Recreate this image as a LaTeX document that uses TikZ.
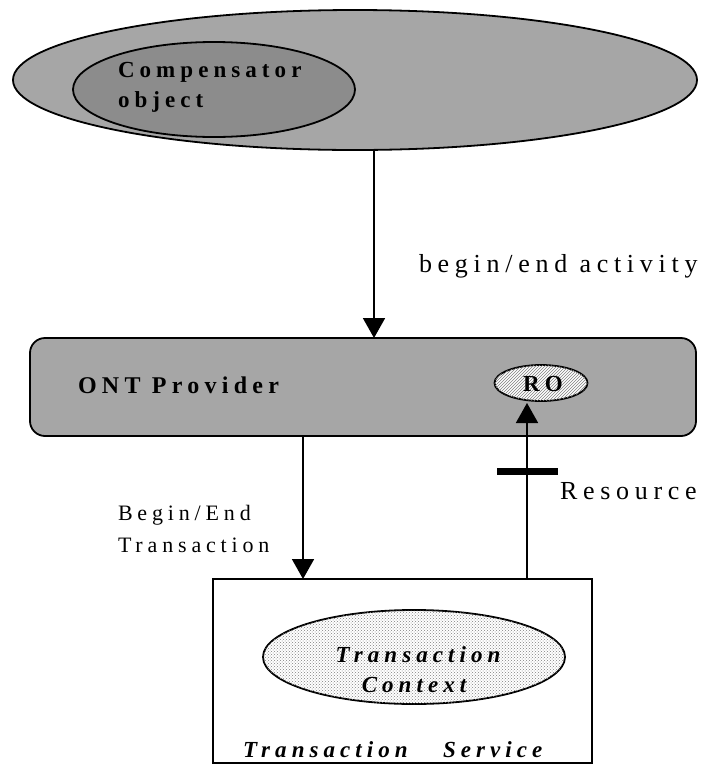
\documentclass[tikz,border=0pt]{standalone}
\usepackage{fontspec}
\setmainfont{Liberation Serif}
\usetikzlibrary{shapes.geometric,arrows.meta,patterns}
\definecolor{outergray}{HTML}{A6A6A6}
\definecolor{innergray}{HTML}{8C8C8C}
\definecolor{boxgray}{HTML}{A6A6A6}
\newfontfamily\spfam[LetterSpace=22]{Liberation Serif}
\tikzset{
  shapebox/.style={inner sep=0pt, outer sep=0pt, line width=1.8pt},
  ell/.style={shapebox, ellipse, draw=black},
  arr/.style={line width=1.8pt, -{Triangle[width=22pt,length=20pt]}},
  lbl/.style={inner sep=0pt, outer sep=0pt, anchor=base west},
  boldlbl/.style={lbl, font=\spfam\bfseries\fontsize{23}{23}\selectfont},
  reglbl/.style={lbl, font=\spfam\fontsize{26}{26}\selectfont},
  smalllbl/.style={lbl, font=\spfam\fontsize{22}{22}\selectfont},
  bilbl/.style={inner sep=0pt, outer sep=0pt, font=\spfam\bfseries\itshape\fontsize{23}{23}\selectfont}
}
\begin{document}
\begin{tikzpicture}[x=1pt,y=-1pt]
\useasboundingbox (0,0) rectangle (707,764);
% top ellipses
\node[ell, fill=outergray, minimum width=684pt, minimum height=140pt] (outer) at (355,80) {};
\node[ell, fill=innergray, minimum width=282pt, minimum height=95pt] (inner) at (214,89.5) {};
\node[boldlbl] (comp) at (118,77) {Compensator};
\node[boldlbl] (obj) at (118,107) {object};
% ONT provider box
\node[shapebox, draw=black, fill=boxgray, rounded corners=15pt, minimum width=666pt, minimum height=98pt] (ont) at (363,387) {};
\node[boldlbl, font=\spfam\bfseries\fontsize{24}{24}\selectfont] (ontl) at (78,393) {ONT Provider};
\node[ell, fill=white, minimum width=93pt, minimum height=36pt,
      postaction={pattern=north east lines, pattern color=gray}] (ro) at (541,383) {};
\node[inner sep=0pt, font=\spfam\bfseries\fontsize{23}{23}\selectfont] (rol) at (543,384) {RO};
% transaction service box
\node[shapebox, draw=black, fill=white, minimum width=379pt, minimum height=184pt] (ts) at (402.5,671) {};
\node[ell, fill=white, minimum width=302pt, minimum height=94pt,
      postaction={pattern=crosshatch dots, pattern color=gray}] (tc) at (414,657) {};
\node[bilbl, anchor=base] (tc1) at (418,662) {Transaction};
\node[bilbl, anchor=base] (tc2) at (414,692) {Context};
\node[bilbl, anchor=base west] (ts1) at (243,757) {Transaction};
\node[bilbl, anchor=base west] (ts2) at (443,757) {Service};
% connectors
\draw[arr] ([xshift=19pt]outer.south) -- ([xshift=19pt]outer.south |- ont.north);
\draw[arr] ([xshift=-60pt]ont.south) -- ([xshift=-60pt]ont.south |- ts.north);
\draw[arr] ([xshift=-14pt]ro.south |- ts.north) --
  node[pos=0.61, fill=black, inner sep=0pt, minimum width=61pt, minimum height=7pt] (bar) {}
  ([xshift=-14pt,yshift=-2pt]ro.south);
% labels
\node[reglbl] (bea) at (419,272) {begin/end activity};
\node[smalllbl] (bet1) at (118,520) {Begin/End};
\node[smalllbl] (bet2) at (118,552) {Transaction};
\node[reglbl] (res) at (560,499) {Resource};
\end{tikzpicture}
\end{document}
